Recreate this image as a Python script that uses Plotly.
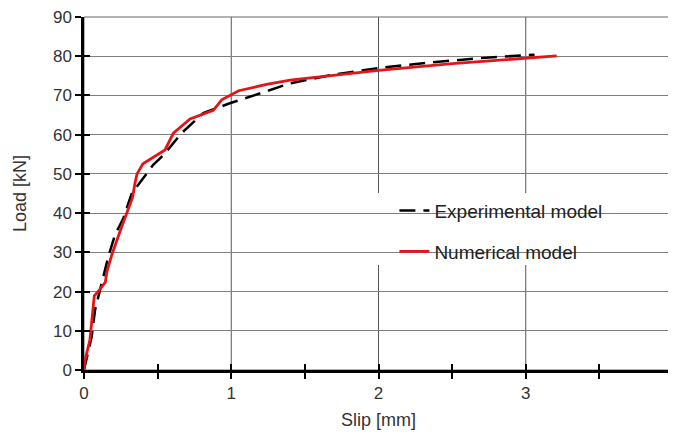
import plotly.graph_objects as go

# Data
exp_slip = [0, 0.052, 0.075, 0.109, 0.165, 0.21, 0.267, 0.324, 0.38, 0.47, 0.54, 0.663, 0.81, 0.99, 1.17, 1.40, 1.69, 2.0, 2.35, 2.69, 3.06]
exp_load = [0, 8.5, 15.3, 20.4, 28.9, 34.4, 38.7, 45.0, 47.8, 52.3, 54.8, 60.4, 65.5, 68.0, 70.2, 73.1, 75.3, 77.0, 78.4, 79.5, 80.4]

num_slip = [0, 0.007, 0.04, 0.07, 0.109, 0.145, 0.155, 0.19, 0.256, 0.30, 0.33, 0.346, 0.36, 0.40, 0.55, 0.607, 0.72, 0.878, 0.935, 1.05, 1.24, 1.40, 1.74, 2.0, 2.5, 3.0, 3.21]
num_load = [0, 2.6, 7.6, 18.9, 20.6, 22.4, 25.0, 29.5, 36.5, 41.0, 44.0, 47.6, 50.0, 52.6, 56.1, 60.4, 64.0, 66.2, 68.9, 71.2, 72.8, 73.9, 75.3, 76.4, 78.1, 79.6, 80.1]

x_tickvals = [0, 0.5, 1, 1.5, 2, 2.5, 3, 3.5, 4]
x_ticktext = ["0", "", "1", "", "2", "", "3", "", "4"]
y_tickvals = [0, 10, 20, 30, 40, 50, 60, 70, 80, 90]

FONT = "Liberation Sans, Arial, sans-serif"

fig = go.Figure()
fig.add_trace(go.Scatter(x=exp_slip, y=exp_load, mode="lines", name="Experimental model",
                         legendgroup="a",
                         line=dict(color="black", width=2.5, dash="16px,8px")))
fig.add_trace(go.Scatter(x=num_slip, y=num_load, mode="lines", name="Numerical model",
                         legendgroup="b",
                         line=dict(color="rgb(228,20,24)", width=2.8)))

# page body has an 8px default margin, so the figure is sized to fit the window
fig.update_layout(
    width=668, height=428,
    margin=dict(l=76, r=3, t=9, b=66),
    paper_bgcolor="white", plot_bgcolor="white",
    font=dict(family=FONT, color="#333333", size=17),
    legend=dict(x=0.527, y=0.505, xanchor="left", yanchor="top",
                bgcolor="rgba(255,255,255,0)", font=dict(size=19, color="#222222"),
                tracegroupgap=13, traceorder="grouped"),
    xaxis=dict(range=[0, 4], tickvals=x_tickvals, ticktext=x_ticktext,
               showgrid=False, showline=True, linecolor="black", linewidth=2.5,
               ticks="outside", ticklen=6, tickwidth=2, tickcolor="black",
               ticklabeloverflow="allow", automargin=False,
               title=dict(text="Slip [mm]", font=dict(size=18), standoff=12),
               zeroline=False, fixedrange=True),
    yaxis=dict(range=[0, 90], tickvals=y_tickvals,
               showgrid=True, gridcolor="#7f7f7f", gridwidth=1,
               showline=True, linecolor="black", linewidth=2.5,
               ticks="outside", ticklen=6, tickwidth=2, tickcolor="black",
               ticklabeloverflow="allow", automargin=False,
               title=dict(text="Load [kN]", font=dict(size=18), standoff=22),
               zeroline=False, fixedrange=True),
    xaxis2=dict(range=[0, 4], overlaying="x", anchor="y", side="bottom",
                tickvals=x_tickvals, showticklabels=False, showgrid=False,
                ticks="inside", ticklen=6, tickwidth=2, tickcolor="black",
                showline=False, zeroline=False, automargin=False),
    yaxis2=dict(range=[0, 90], overlaying="y", anchor="x", side="left",
                tickvals=y_tickvals, showticklabels=False, showgrid=False,
                ticks="inside", ticklen=6, tickwidth=2, tickcolor="black",
                showline=False, zeroline=False, automargin=False),
)

# vertical grid at integer slips
for v in [1, 2, 3]:
    fig.add_shape(type="line", xref="x", yref="paper", x0=v, x1=v, y0=0, y1=1,
                  line=dict(color="#555555", width=1), layer="below")

# thin frame on top/right
fig.add_shape(type="rect", xref="paper", yref="paper", x0=0, x1=1, y0=0, y1=1,
              line=dict(color="#666666", width=1), layer="between")
# white legend backdrop
fig.add_shape(type="rect", xref="paper", yref="paper", x0=0.4516, x1=0.9355, y0=0.2975, y1=0.5014,
              fillcolor="white", line=dict(width=0), layer="between")

# dummy trace to activate overlay axes
fig.add_trace(go.Scatter(x=[None], y=[None], xaxis="x2", yaxis="y2", showlegend=False, hoverinfo="skip"))

fig.write_html("out.html")
